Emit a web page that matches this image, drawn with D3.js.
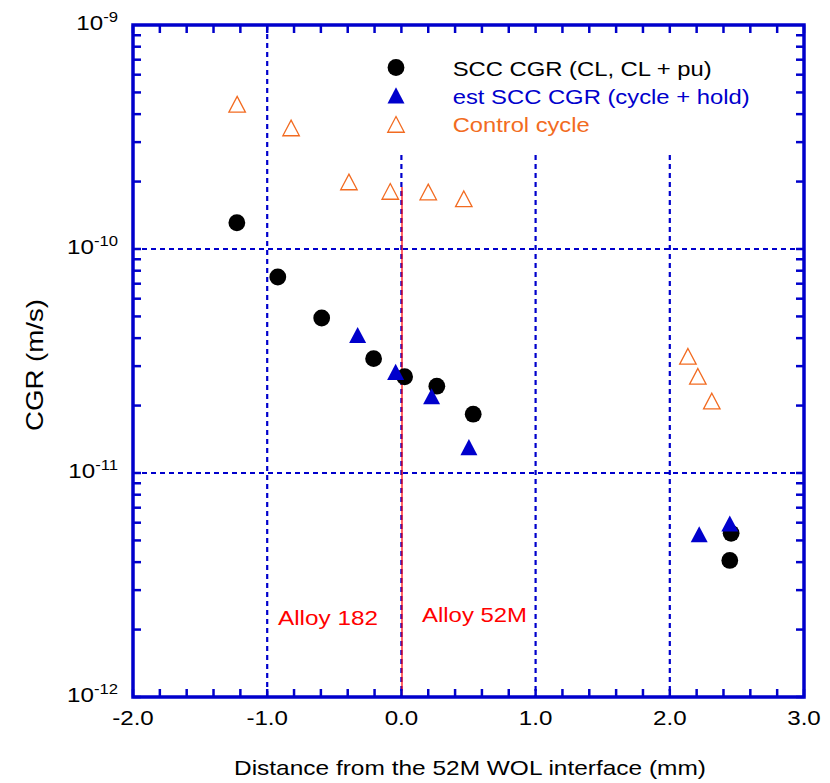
<!DOCTYPE html>
<html><head><meta charset="utf-8">
<script src="https://cdn.jsdelivr.net/npm/d3@7"></script>
<style>body{margin:0;background:#fff}svg{display:block}text{font-family:Arial,"Liberation Sans",sans-serif}</style>
</head><body><svg id="c" width="830" height="783"></svg>
<script>
// data
const sccX = [-1.226, -0.921, -0.594, -0.207, 0.024, 0.264, 0.535, 2.457, 2.447];
const sccY = [1.31e-10, 7.5e-11, 4.92e-11, 3.24e-11, 2.69e-11, 2.44e-11, 1.83e-11, 5.38e-12, 4.07e-12];
const estX = [-0.326, -0.043, 0.225, 0.503, 2.219, 2.447];
const estY = [4.02e-11, 2.75e-11, 2.14e-11, 1.27e-11, 5.18e-12, 5.79e-12];
const ctlX = [-1.224, -0.822, -0.391, -0.083, 0.200, 0.465, 2.135, 2.209, 2.313];
const ctlY = [4.31e-10, 3.38e-10, 1.94e-10, 1.76e-10, 1.75e-10, 1.63e-10, 3.23e-11, 2.63e-11, 2.04e-11];
const xTicks = [-2, -1, 0, 1, 2, 3];
const xTickLabels = ["-2.0", "-1.0", "0.0", "1.0", "2.0", "3.0"];
const yDecades = [-9, -10, -11, -12];
const legendLabels = ["SCC CGR (CL, CL + pu)", "est SCC CGR (cycle + hold)", "Control cycle"];
const regionLabels = ["Alloy 182", "Alloy 52M"];

const BLUE = "#0000CC", ORANGE = "#F26B21", RED = "#FF0000";
const L = 133, R = 804, T = 25, B = 697;
const SX = 1.15;
const svg = d3.select("#c");
const x = d3.scaleLinear().domain([-2, 3]).range([L, R]);
const y = d3.scaleLog().domain([1e-12, 1e-9]).range([B, T]);

// triangle symbol (centroid-centred)
const tri = {draw(ctx, size) {
  const w = Math.sqrt(size), h = w * 0.95;
  ctx.moveTo(0, -2 * h / 3); ctx.lineTo(w / 2, h / 3); ctx.lineTo(-w / 2, h / 3); ctx.closePath();
}};
const triPath = d3.symbol().type(tri).size(17 * 17)();
const triOpen = d3.symbol().type(tri).size(16.5 * 16.5)();

// grid
const gridX = [-1, 0, 1, 2];
svg.append("g").selectAll("line").data(gridX).join("line")
  .attr("x1", d => x(d)).attr("x2", d => x(d))
  .attr("y1", d => d < 0 ? T : 155).attr("y2", B)
  .attr("stroke", BLUE).attr("stroke-width", 2.2).attr("stroke-dasharray", "5,4");
svg.append("g").selectAll("line").data([-10, -11]).join("line")
  .attr("x1", L).attr("x2", R)
  .attr("y1", d => y(Math.pow(10, d))).attr("y2", d => y(Math.pow(10, d)))
  .attr("stroke", BLUE).attr("stroke-width", 2.2).attr("stroke-dasharray", "5,4");
// red interface line
svg.append("line").attr("x1", x(0) + 0.6).attr("x2", x(0) + 0.6).attr("y1", 187).attr("y2", B)
  .attr("stroke", RED).attr("stroke-width", 1.2);

// ticks (inside)
const minorX = d3.range(-2, 3.0001, 0.2);
const tg = svg.append("g").attr("stroke", BLUE).attr("stroke-width", 2.5);
minorX.forEach(v => {
  tg.append("line").attr("x1", x(v)).attr("x2", x(v)).attr("y1", B).attr("y2", B - 8);
  tg.append("line").attr("x1", x(v)).attr("x2", x(v)).attr("y1", T).attr("y2", T + 8);
});
for (let e = -12; e < -9; e++) {
  for (let m = 1; m <= 9; m++) {
    const v = m * Math.pow(10, e);
    tg.append("line").attr("x1", L).attr("x2", L + 8).attr("y1", y(v)).attr("y2", y(v));
    tg.append("line").attr("x1", R).attr("x2", R - 8).attr("y1", y(v)).attr("y2", y(v));
  }
}
// frame
svg.append("rect").attr("x", L).attr("y", T).attr("width", R - L).attr("height", B - T)
  .attr("fill", "none").attr("stroke", BLUE).attr("stroke-width", 3.5);

// tick labels
svg.append("g").selectAll("text").data(xTicks).join("text")
  .attr("transform", d => `translate(${x(d)},725) scale(${SX},1)`).attr("text-anchor", "middle")
  .attr("font-size", 21).attr("fill", "#000").text((d, i) => xTickLabels[i]);
const yl = svg.append("g").selectAll("text").data(yDecades).join("text")
  .attr("transform", d => `translate(118,${y(Math.pow(10, d)) + 5}) scale(${SX},1)`).attr("text-anchor", "end")
  .attr("font-size", 21).attr("fill", "#000");
yl.append("tspan").text("10");
yl.append("tspan").attr("dy", -8.5).attr("font-size", 14.5).text(d => String(d));

// axis titles
svg.append("text").attr("x", 234).attr("y", 775).attr("font-size", 21)
  .attr("textLength", 472).attr("lengthAdjust", "spacingAndGlyphs")
  .text("Distance from the 52M WOL interface (mm)");
svg.append("text").attr("transform", "translate(43,431) rotate(-90)")
  .attr("font-size", 24).attr("textLength", 132).attr("lengthAdjust", "spacingAndGlyphs").text("CGR (m/s)");

// region labels
svg.append("text").attr("x", 278).attr("y", 625).attr("font-size", 21).attr("fill", RED)
  .attr("textLength", 100).attr("lengthAdjust", "spacingAndGlyphs").text(regionLabels[0]);
svg.append("text").attr("x", 422).attr("y", 622).attr("font-size", 21).attr("fill", RED)
  .attr("textLength", 105).attr("lengthAdjust", "spacingAndGlyphs").text(regionLabels[1]);

// data marks
svg.append("g").selectAll("path").data(ctlX).join("path")
  .attr("transform", (d, i) => `translate(${x(d)},${y(ctlY[i])})`).attr("d", triOpen)
  .attr("fill", "none").attr("stroke", ORANGE).attr("stroke-width", 1.3);
svg.append("g").selectAll("circle").data(sccX).join("circle")
  .attr("cx", d => x(d)).attr("cy", (d, i) => y(sccY[i])).attr("r", 8.4).attr("fill", "#000");
svg.append("g").selectAll("path").data(estX).join("path")
  .attr("transform", (d, i) => `translate(${x(d)},${y(estY[i])})`).attr("d", triPath)
  .attr("fill", BLUE);

// legend
const lg = svg.append("g");
const lx = 396, ly = [67.5, 98, 127];
lg.append("circle").attr("cx", lx).attr("cy", ly[0]).attr("r", 8.4).attr("fill", "#000");
lg.append("path").attr("transform", `translate(${lx},${ly[1]})`).attr("d", triPath).attr("fill", BLUE);
lg.append("path").attr("transform", `translate(${lx},${ly[2]})`).attr("d", triOpen).attr("fill", "none").attr("stroke", ORANGE).attr("stroke-width", 1.3);
const lcol = ["#000", BLUE, ORANGE];
const llen = [259, 297, 137];
lg.selectAll("text").data(legendLabels).join("text")
  .attr("x", 452.7).attr("y", (d, i) => [76, 104.3, 132][i]).attr("font-size", 21)
  .attr("textLength", (d, i) => llen[i]).attr("lengthAdjust", "spacingAndGlyphs")
  .attr("fill", (d, i) => lcol[i]).text(d => d);
</script></body></html>
